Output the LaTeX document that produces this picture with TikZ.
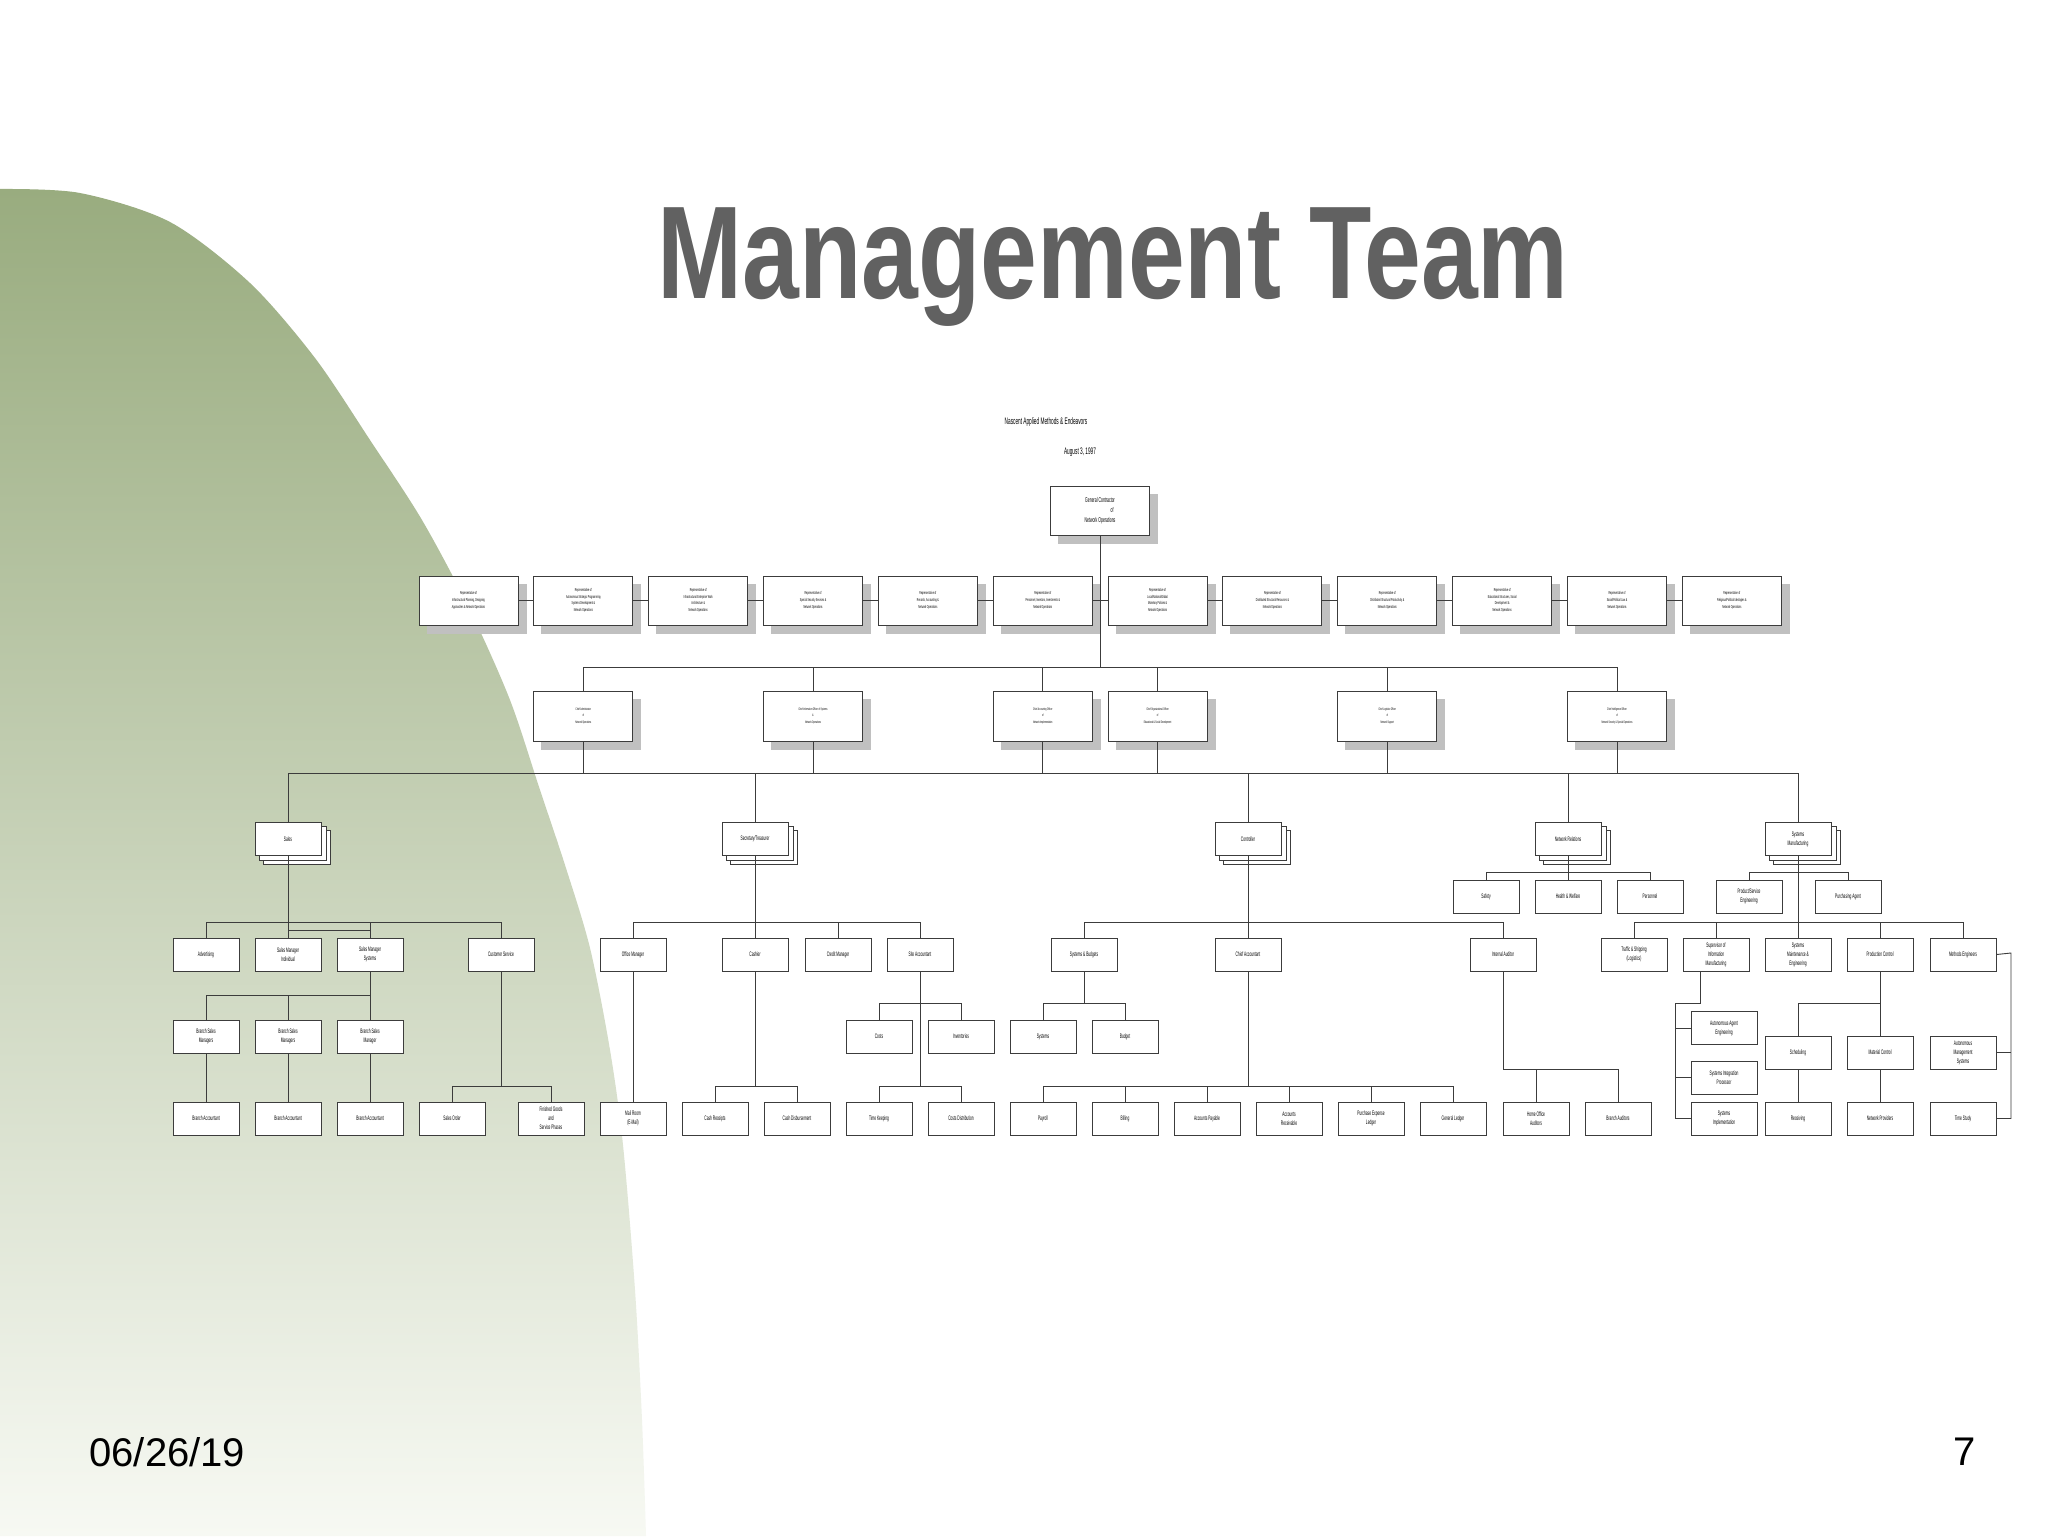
\documentclass[tikz,border=0pt]{standalone}
\usepackage{fontspec}
\setmainfont{Liberation Sans}
\newfontfamily\narrowf[FakeStretch=0.5]{Liberation Sans}
\newfontfamily\titlef[FakeStretch=0.773]{Liberation Sans}
\usetikzlibrary{calc}
\pgfdeclarelayer{bgl}\pgfdeclarelayer{shl}\pgfdeclarelayer{lnl}
\pgfsetlayers{bgl,shl,lnl,main}
\definecolor{shadowgray}{HTML}{C0C0C0}
\definecolor{titlegray}{HTML}{616161}
\definecolor{gtop}{HTML}{99AC7F}
\definecolor{gmid}{HTML}{C8D1B6}
\definecolor{gbot}{HTML}{F7F9F3}
\definecolor{edge}{HTML}{3C3C3C}
\tikzset{
  box/.style={draw=edge, fill=white, line width=0.5pt, inner sep=0pt, align=center},
  small/.style={box, minimum width=33pt, minimum height=16.5pt, font=\narrowf\fontsize{3.25}{4.5}\selectfont},
  rep/.style={box, minimum width=49.5pt, minimum height=24.5pt, font=\narrowf\fontsize{2.15}{3.35}\selectfont},
  chief/.style={box, minimum width=49.5pt, minimum height=25pt, font=\narrowf\fontsize{1.8}{3.25}\selectfont},
  stk/.style={draw=edge, fill=white, line width=0.5pt},
  conn/.style={draw=edge, line width=0.45pt},
}
\begin{document}
\begin{tikzpicture}[x=0.5pt,y=-0.5pt]
\useasboundingbox (0,0) rectangle (2048,1536);
\begin{pgfonlayer}{bgl}
 \fill[white] (0,0) rectangle (2048,1536);
 \shade[top color=gtop, middle color=gmid, bottom color=gbot]
   plot[smooth] coordinates {(0,189) (80,193) (170,222) (250,283) (315,358) (370,440) (422,520) (470,610) (510,700) (540,790) (565,865) (590,948) (610,1050) (623,1145) (635,1290) (642,1420) (646,1536)}
   -- (0,1536) -- cycle;
\end{pgfonlayer}

% title and footer
\node[anchor=base, font=\titlef\bfseries\fontsize{66}{70}\selectfont, text=titlegray, inner sep=0pt] (title) at (1113,298) {Management Team};
\node[anchor=west, font=\fontsize{20}{24}\selectfont, inner sep=0pt] (date) at (89,1452) {06/26/19};
\node[font=\fontsize{20}{24}\selectfont, inner sep=0pt] (pg) at (1965,1452) {7};

% header
\node[font=\narrowf\fontsize{4.75}{6}\selectfont, inner sep=0pt] (hdr) at (1046,422) {Nascent Applied Methods \& Endeavors};
\node[font=\narrowf\fontsize{4.75}{6}\selectfont, inner sep=0pt] (hdate) at (1080,452) {August 3, 1997};

\node[rep, font=\narrowf\fontsize{3.5}{5}\selectfont] (gc) at (1100,510.5) {General Contractor\\ \hspace*{12pt}of\\Network Operations};

% representatives
\node[rep] (r1) at (468.5,600.5) {Representative of\\Infrastructural Planning, Designing\\Approaches \& Network Operations};
\node[rep] (r2) at (583.35,600.5) {Representative of\\Autonomous Strategic Programming\\Systems Development \&\\Network Operations};
\node[rep] (r3) at (698.2,600.5) {Representative of\\Infrastructural Enterprise Work\\Architecture \&\\Network Operations};
\node[rep] (r4) at (813.05,600.5) {Representative of\\Special Security Services \&\\Network Operations};
\node[rep] (r5) at (927.9,600.5) {Representative of\\Records, Accounting \&\\Network Operations};
\node[rep] (r6) at (1042.75,600.5) {Representative of\\Personnel, Investors, Investments \&\\Network Operations};
\node[rep] (r7) at (1157.6,600.5) {Representative of\\Local/National/Global\\Monetary Policies \&\\Network Operations};
\node[rep] (r8) at (1272.45,600.5) {Representative of\\Distributed Structural Resources \&\\Network Operations};
\node[rep] (r9) at (1387.3,600.5) {Representative of\\Distributed Structural Productivity \&\\Network Operations};
\node[rep] (r10) at (1502.15,600.5) {Representative of\\Educational Structures, Social\\Development \&\\Network Operations};
\node[rep] (r11) at (1617,600.5) {Representative of\\Social/Political Law \&\\Network Operations};
\node[rep] (r12) at (1731.85,600.5) {Representative of\\Religious/Political Ideologies \&\\Network Operations};

% chiefs
\node[chief] (c1) at (583.35,716) {Chief Administrator\\of\\Network Operations};
\node[chief] (c2) at (813.05,716) {Chief Information Officer of Systems\\\&\\Network Operations};
\node[chief] (c3) at (1042.75,716) {Chief Accounting Officer\\of\\Network Implementation};
\node[chief] (c4) at (1157.6,716) {Chief Organizational Officer\\of\\Educational \& Social Development};
\node[chief] (c5) at (1387.3,716) {Chief Logistics Officer\\of\\Network Support};
\node[chief] (c6) at (1617,716) {Chief Intelligence Officer\\of\\Network Security \& Special Operations};

% level 3
\node[small] (sales) at (288,839) {Sales};
\node[small] (sec) at (755,839) {Secretary/Treasurer};
\node[small] (ctrl) at (1248,839) {Controller};
\node[small] (netrel) at (1568,839) {Network Relations};
\node[small] (sysmfg) at (1798,839) {Systems\\Manufacturing};

\node[small] (safety) at (1486,896.5) {Safety};
\node[small] (hw) at (1568,896.5) {Health \& Welfare};
\node[small] (pers) at (1650,896.5) {Personnel};
\node[small] (pse) at (1749,896.5) {Product/Service\\Engineering};
\node[small] (pa) at (1848,896.5) {Purchasing Agent};

% level 4
\node[small] (adv) at (206,954.5) {Advertising};
\node[small] (smi) at (288,954.5) {Sales Manager\\Individual};
\node[small] (sms) at (370,954.5) {Sales Manager\\Systems};
\node[small] (cs) at (501,954.5) {Customer Service};
\node[small] (om) at (633,954.5) {Office Manager};
\node[small] (cash) at (755,954.5) {Cashier};
\node[small] (cm) at (838,954.5) {Credit Manager};
\node[small] (sa) at (920,954.5) {Site Accountant};
\node[small] (sb) at (1084,954.5) {Systems \& Budgets};
\node[small] (cacc) at (1248,954.5) {Chief Accountant};
\node[small] (ia) at (1503,954.5) {Internal Auditor};
\node[small] (ts) at (1634,954.5) {Traffic \& Shipping\\(Logistics)};
\node[small] (sup) at (1716,954.5) {Supervisor of\\Information\\Manufacturing};
\node[small] (smeng) at (1798,954.5) {Systems\\Maintenance \&\\Engineering};
\node[small] (pc) at (1880,954.5) {Production Control};
\node[small] (me) at (1963,954.5) {Methods Engineers};

% level 5
\node[small] (bsm1) at (206,1036.5) {Branch Sales\\Managers};
\node[small] (bsm2) at (288,1036.5) {Branch Sales\\Managers};
\node[small] (bsm3) at (370,1036.5) {Branch Sales\\Manager};
\node[small] (costs) at (879,1036.5) {Costs};
\node[small] (inv) at (961,1036.5) {Inventories};
\node[small] (sys) at (1043,1036.5) {Systems};
\node[small] (bud) at (1125,1036.5) {Budget};
\node[small] (aae) at (1724,1028) {Autonomous Agent\\Engineering};
\node[small] (sip) at (1724,1077.5) {Systems Integration\\Processor};
\node[small] (sched) at (1798,1052.5) {Scheduling};
\node[small] (mc) at (1880,1052.5) {Material Control};
\node[small] (ams) at (1963,1052.5) {Autonomous\\Management\\Systems};

% bottom row
\node[small] (ba1) at (206,1118.5) {Branch Accountant};
\node[small] (ba2) at (288,1118.5) {Branch Accountant};
\node[small] (ba3) at (370,1118.5) {Branch Accountant};
\node[small] (so) at (452,1118.5) {Sales Order};
\node[small] (fg) at (551,1118.5) {Finished Goods\\and\\Service Phases};
\node[small] (mail) at (633,1118.5) {Mail Room\\(E-Mail)};
\node[small] (crc) at (715,1118.5) {Cash Receipts};
\node[small] (cdis) at (797,1118.5) {Cash Disbursement};
\node[small] (tk) at (879,1118.5) {Time Keeping};
\node[small] (cdst) at (961,1118.5) {Costs Distribution};
\node[small] (pay) at (1043,1118.5) {Payroll};
\node[small] (bill) at (1125,1118.5) {Billing};
\node[small] (ap) at (1207,1118.5) {Accounts Payable};
\node[small] (ar) at (1289,1118.5) {Accounts\\Receivable};
\node[small] (pel) at (1371,1118.5) {Purchase Expense\\Ledger};
\node[small] (gl) at (1453,1118.5) {General Ledger};
\node[small] (hoa) at (1536,1118.5) {Home Office\\Auditors};
\node[small] (bra) at (1618,1118.5) {Branch Auditors};
\node[small] (si) at (1724,1118.5) {Systems\\Implementation};
\node[small] (recv) at (1798,1118.5) {Receiving};
\node[small] (np) at (1880,1118.5) {Network Providers};
\node[small] (tst) at (1963,1118.5) {Time Study};

% shadows and stacks
\begin{pgfonlayer}{shl}
 \foreach \n in {gc,r1,r2,r3,r4,r5,r6,r7,r8,r9,r10,r11,r12,c1,c2,c3,c4,c5,c6}
   \fill[shadowgray] ([shift={(8,8)}]\n.north west) rectangle ([shift={(8,8)}]\n.south east);
 \foreach \n in {sales,sec,ctrl,netrel,sysmfg}{
   \draw[stk] ([shift={(9,8)}]\n.north west) rectangle ([shift={(9,8)}]\n.south east);
   \draw[stk] ([shift={(4.5,4)}]\n.north west) rectangle ([shift={(4.5,4)}]\n.south east);
 }
\end{pgfonlayer}

% connectors
\begin{pgfonlayer}{lnl}
 \coordinate (yb1) at (0,667);
 \coordinate (yb2) at (0,773);
 \coordinate (yb3) at (0,872);
 \coordinate (yb4) at (0,922);
 \coordinate (yb4j) at (0,930);
 \coordinate (yb5) at (0,995);
 \coordinate (yb5b) at (0,1003);
 \coordinate (yb6a) at (0,1069);
 \coordinate (yb6) at (0,1086);
 \coordinate (supd) at (1700,971);
 \coordinate (sbk) at (1675,1003);
 \coordinate (mbk) at (2011,953);

 \draw[conn] (r1.center) -- (r12.center);
 \draw[conn] (gc.south) -- (gc.south |- yb1);
 \draw[conn] (c1.north |- yb1) -- (c6.north |- yb1);
 \foreach \n in {c1,c2,c3,c4,c5,c6}{
   \draw[conn] (\n.north) -- (\n.north |- yb1);
   \draw[conn] (\n.south) -- (\n.south |- yb2);
 }
 \draw[conn] (sales.north |- yb2) -- (sysmfg.north |- yb2);
 \foreach \n in {sales,sec,ctrl,netrel,sysmfg}
   \draw[conn] (\n.north) -- (\n.north |- yb2);

 % network relations / systems manufacturing
 \draw[conn] (netrel.south) -- (hw.north);
 \draw[conn] (safety.north |- yb3) -- (pers.north |- yb3);
 \foreach \n in {safety,pers} \draw[conn] (\n.north) -- (\n.north |- yb3);
 \draw[conn] (sysmfg.south) -- (smeng.north);
 \draw[conn] (pse.north |- yb3) -- (pa.north |- yb3);
 \foreach \n in {pse,pa} \draw[conn] (\n.north) -- (\n.north |- yb3);

 % level 4 buses
 \draw[conn] (sales.south) -- (smi.north);
 \draw[conn] (adv.north |- yb4) -- (cs.north |- yb4);
 \foreach \n in {adv,sms,cs} \draw[conn] (\n.north) -- (\n.north |- yb4);
 \draw[conn] (smi.north |- yb4j) -- (sms.north |- yb4j);
 \draw[conn] (sec.south) -- (cash.north);
 \draw[conn] (om.north |- yb4) -- (sa.north |- yb4);
 \foreach \n in {om,cm,sa} \draw[conn] (\n.north) -- (\n.north |- yb4);
 \draw[conn] (ctrl.south) -- (cacc.north);
 \draw[conn] (sb.north |- yb4) -- (ia.north |- yb4);
 \foreach \n in {sb,ia} \draw[conn] (\n.north) -- (\n.north |- yb4);
 \draw[conn] (ts.north |- yb4) -- (me.north |- yb4);
 \foreach \n in {ts,sup,pc,me} \draw[conn] (\n.north) -- (\n.north |- yb4);

 % sales subtree
 \draw[conn] (sms.south) -- (bsm3.north);
 \draw[conn] (bsm1.north |- yb5) -- (bsm3.north |- yb5);
 \foreach \n in {bsm1,bsm2} \draw[conn] (\n.north) -- (\n.north |- yb5);
 \draw[conn] (bsm1.south) -- (ba1.north);
 \draw[conn] (bsm2.south) -- (ba2.north);
 \draw[conn] (bsm3.south) -- (ba3.north);
 \draw[conn] (cs.south) -- (cs.south |- yb6);
 \draw[conn] (so.north |- yb6) -- (fg.north |- yb6);
 \foreach \n in {so,fg} \draw[conn] (\n.north) -- (\n.north |- yb6);

 % secretary subtree
 \draw[conn] (om.south) -- (mail.north);
 \draw[conn] (cash.south) -- (cash.south |- yb6);
 \draw[conn] (crc.north |- yb6) -- (cdis.north |- yb6);
 \foreach \n in {crc,cdis} \draw[conn] (\n.north) -- (\n.north |- yb6);
 \draw[conn] (sa.south) -- (sa.south |- yb6);
 \draw[conn] (costs.north |- yb5b) -- (inv.north |- yb5b);
 \foreach \n in {costs,inv} \draw[conn] (\n.north) -- (\n.north |- yb5b);
 \draw[conn] (tk.north |- yb6) -- (cdst.north |- yb6);
 \foreach \n in {tk,cdst} \draw[conn] (\n.north) -- (\n.north |- yb6);

 % controller subtree
 \draw[conn] (sb.south) -- (sb.south |- yb5b);
 \draw[conn] (sys.north |- yb5b) -- (bud.north |- yb5b);
 \foreach \n in {sys,bud} \draw[conn] (\n.north) -- (\n.north |- yb5b);
 \draw[conn] (cacc.south) -- (cacc.south |- yb6);
 \draw[conn] (pay.north |- yb6) -- (gl.north |- yb6);
 \foreach \n in {pay,bill,ap,ar,pel,gl} \draw[conn] (\n.north) -- (\n.north |- yb6);
 \draw[conn] (ia.south) -- (ia.south |- yb6a) -- (bra.north |- yb6a) -- (bra.north);
 \draw[conn] (hoa.north) -- (hoa.north |- yb6a);

 % systems manufacturing subtree
 \draw[conn] (supd) |- (sbk) -- (sbk |- si.west) -- (si.west);
 \draw[conn] (aae.west) -- (aae.west -| sbk);
 \draw[conn] (sip.west) -- (sip.west -| sbk);
 \draw[conn] (pc.south) -- (mc.north);
 \draw[conn] (sched.north |- yb5b) -- (pc.south |- yb5b);
 \draw[conn] (sched.north) -- (sched.north |- yb5b);
 \draw[conn] (sched.south) -- (recv.north);
 \draw[conn] (mc.south) -- (np.north);
 \draw[conn] (me.east) -- (mbk) |- (tst.east);
 \draw[conn] (ams.east) -- (ams.east -| mbk);
\end{pgfonlayer}
\end{tikzpicture}
\end{document}
